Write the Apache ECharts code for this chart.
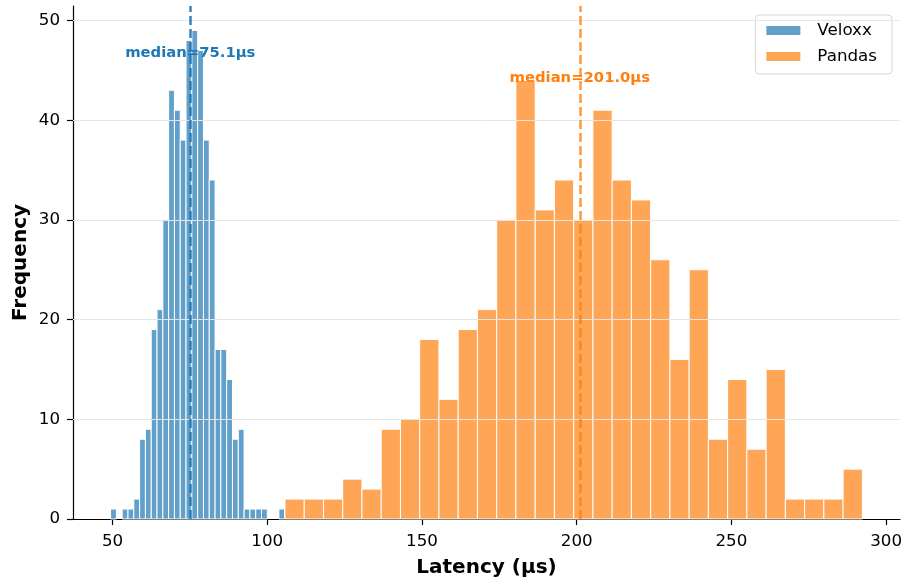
<!DOCTYPE html>
<html>
<head>
<meta charset="utf-8">
<script src="https://cdn.jsdelivr.net/npm/echarts@6/dist/echarts.min.js"></script>
<style>html,body{margin:0;padding:0;background:#fff}#c{width:905px;height:580px}</style>
</head>
<body>
<div id="c"></div>
<script>
const seriesNames = ['Veloxx', 'Pandas'];
const xTicks = [50, 100, 150, 200, 250, 300];
const yTicks = [0, 10, 20, 30, 40, 50];
const veloxxRange = [49.35, 105.63];
const pandasRange = [105.72, 292.33];
const veloxxCounts = [1,0,1,1,2,8,9,19,21,30,43,41,38,48,49,47,38,34,17,17,14,8,9,1,1,1,1,0,0,1];
const pandasCounts = [2,2,2,4,3,9,10,18,12,19,21,30,44,31,34,30,41,34,32,26,16,25,8,14,7,15,2,2,2,5];
const veloxxMedian = 75.1;
const pandasMedian = 201.0;

function histData(range, counts) {
  const w = (range[1] - range[0]) / counts.length;
  return counts.map((c, i) => [range[0] + i * w, range[0] + (i + 1) * w, c]);
}

const FONT = 'DejaVu Sans';
const BLUE = '#1f77b4', ORANGE = '#ff7f0e';

function renderBar(params, api) {
  const c = api.value(2);
  if (!c) return null;
  const p0 = api.coord([api.value(0), c]);
  const p1 = api.coord([api.value(1), 0]);
  return {
    type: 'rect',
    shape: { x: p0[0], y: p0[1], width: p1[0] - p0[0], height: p1[1] - p0[1] },
    style: { fill: api.visual('color'), stroke: '#ffffff', lineWidth: 1 }
  };
}

function histSeries(name, range, counts, fill, textColor, lineColor, median, labelY) {
  return {
    name: name,
    type: 'custom',
    renderItem: renderBar,
    z: 2,
    itemStyle: { color: fill, borderColor: '#ffffff', borderWidth: 1 },
    encode: { x: [0, 1], y: 2 },
    data: histData(range, counts),
    markLine: {
      silent: true, symbol: 'none', animation: false,
      label: { show: false },
      lineStyle: { color: lineColor, type: [9, 4], width: 2.5 },
      data: [{ xAxis: median }]
    },
    markPoint: {
      silent: true, symbol: 'circle', symbolSize: 0, animation: false,
      label: {
        show: true, position: 'inside', color: textColor,
        fontFamily: FONT, fontWeight: 'bold', fontSize: 14.8,
        formatter: 'median=' + median.toFixed(1) + 'µs'
      },
      data: [{ coord: [median, labelY] }]
    }
  };
}

const chart = echarts.init(document.getElementById('c'), null, { renderer: 'canvas' });
chart.setOption({
  animation: false,
  backgroundColor: '#ffffff',
  grid: { left: 73, right: 5, top: 6, bottom: 61, containLabel: false, outerBoundsMode: 'none' },
  legend: {
    data: seriesNames,
    orient: 'vertical',
    top: 15, right: 13,
    itemWidth: 36, itemHeight: 11, itemGap: 9,
    padding: [7, 15, 9, 9],
    borderColor: '#d6d6d6', borderWidth: 1, borderRadius: 4,
    backgroundColor: 'rgba(255,255,255,0.8)',
    icon: 'rect',
    textStyle: { fontFamily: FONT, fontSize: 16.7, color: '#000', padding: [0, 0, 0, 11] }
  },
  xAxis: {
    type: 'value', min: 37.2, max: 304.5,
    name: 'Latency (µs)', nameLocation: 'middle', nameGap: 39,
    nameMoveOverlap: false,
    nameTextStyle: { fontFamily: FONT, fontSize: 20, fontWeight: 'bold', color: '#000' },
    axisLine: { show: true, lineStyle: { color: '#000', width: 1.2 } },
    axisTick: { show: true, inside: false, length: 6, customValues: xTicks, lineStyle: { color: '#000', width: 1.2 } },
    axisLabel: { customValues: xTicks, margin: 14, fontFamily: FONT, fontSize: 16.7, color: '#000' },
    splitLine: { show: false }
  },
  yAxis: {
    type: 'value', min: 0, max: 51.45,
    name: 'Frequency', nameLocation: 'middle', nameGap: 42,
    nameMoveOverlap: false,
    nameTextStyle: { fontFamily: FONT, fontSize: 20, fontWeight: 'bold', color: '#000' },
    axisLine: { show: true, lineStyle: { color: '#000', width: 1.2 } },
    axisTick: { show: true, inside: false, length: 6, customValues: yTicks, lineStyle: { color: '#000', width: 1.2 } },
    axisLabel: { customValues: yTicks, margin: 13, fontFamily: FONT, fontSize: 16.7, color: '#000' },
    splitLine: { show: false }
  },
  series: [
    {
      name: 'grid', type: 'line', data: [], z: 1, silent: true,
      markLine: {
        silent: true, symbol: 'none', animation: false,
        label: { show: false },
        lineStyle: { color: '#e5e5e5', type: 'solid', width: 1 },
        data: yTicks.filter(v => v > 0).map(v => ({ yAxis: v }))
      }
    },
    histSeries('Veloxx', veloxxRange, veloxxCounts, 'rgba(31,119,180,0.7)', BLUE, 'rgba(31,119,180,0.9)', veloxxMedian, 46.7),
    histSeries('Pandas', pandasRange, pandasCounts, 'rgba(255,127,14,0.7)', ORANGE, 'rgba(255,127,14,0.8)', pandasMedian, 44.2)
  ]
});
</script>
</body>
</html>
